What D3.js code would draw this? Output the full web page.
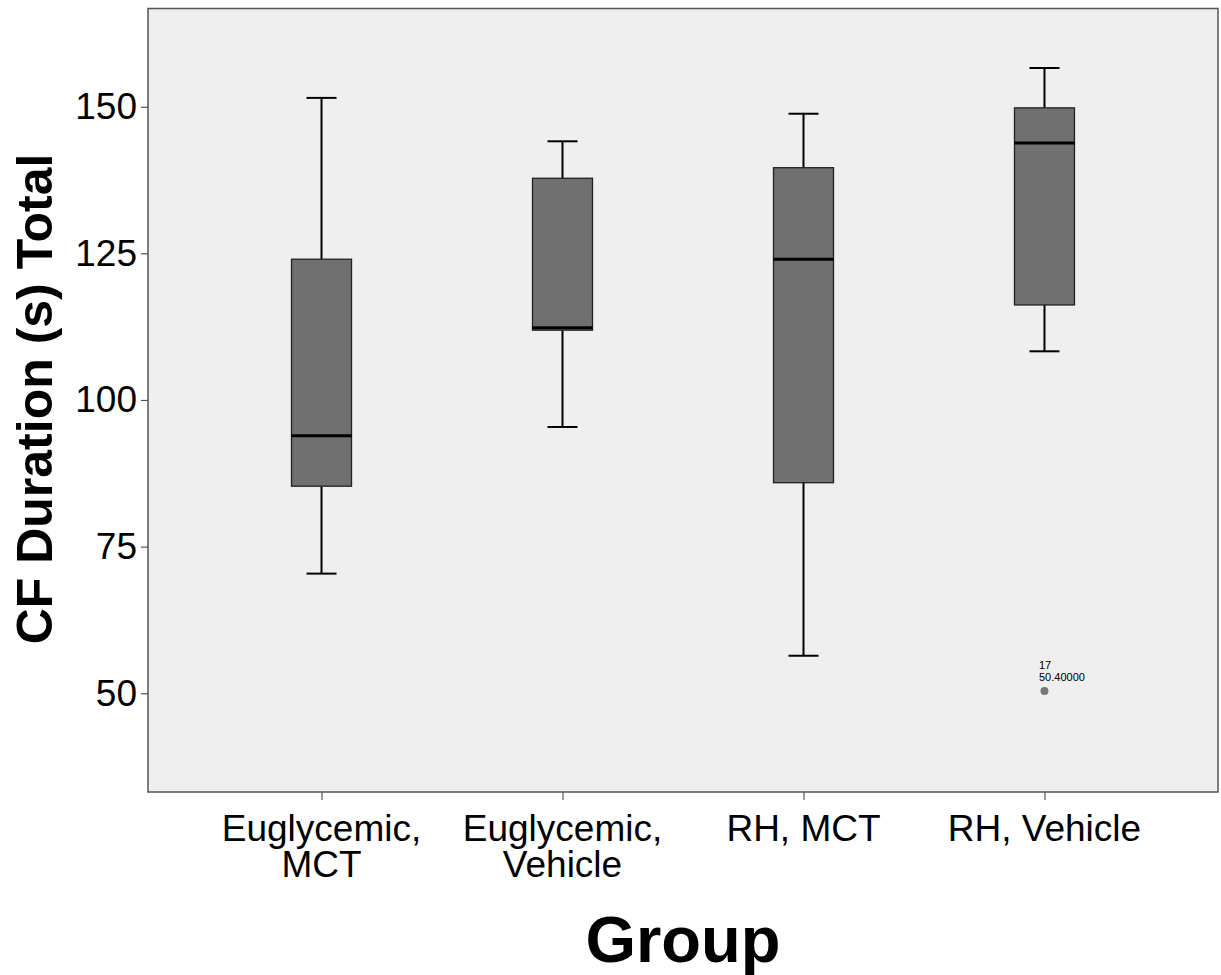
<!DOCTYPE html>
<html><head><meta charset="utf-8">
<script src="https://cdn.jsdelivr.net/npm/d3@7"></script>
<style>body{margin:0;background:#fff}svg{display:block}text{font-family:"Liberation Sans",Arial,sans-serif}</style>
</head><body><svg id="c" width="1221" height="975"></svg>
<script>
const categories = [["Euglycemic,","MCT"],["Euglycemic,","Vehicle"],["RH, MCT"],["RH, Vehicle"]];
const whiskerLow = [70.4, 95.4, 56.4, 108.3];
const q1 = [85.3, 111.9, 85.9, 116.2];
const median = [93.9, 112.3, 124.0, 143.8];
const q3 = [124.0, 137.8, 139.6, 149.8];
const whiskerHigh = [151.5, 144.1, 148.8, 156.6];
const outliers = [{group: 3, id: "17", value: 50.4}];
const yTicks = [50, 75, 100, 125, 150];

const svg = d3.select("#c");
const L = 148, R = 1218, T = 8.5, B = 792;
const keys = categories.map((c,i)=>"g"+i);
const x = d3.scalePoint().domain(keys).range([L, R]).padding(0.72);
const y = d3.scaleLinear().domain([33.17, 166.74]).range([B, T]);

svg.append("rect").attr("x", L).attr("y", T).attr("width", R-L).attr("height", B-T)
  .attr("fill", "#efefef").attr("stroke", "#555").attr("stroke-width", 1.5);

// y axis
const yAxis = d3.axisLeft(y).tickValues(yTicks).tickSize(7).tickPadding(4);
const ga = svg.append("g").attr("transform", `translate(${L},0)`).call(yAxis);
ga.select(".domain").remove();
ga.selectAll(".tick line").attr("stroke", "#555").attr("stroke-width", 1.2);
ga.selectAll(".tick text").attr("font-size", 37).attr("fill", "#000")
  .attr("font-family", '"Liberation Sans",Arial,sans-serif');

// x axis
const xAxis = d3.axisBottom(x).tickSize(8).tickFormat("");
const gx = svg.append("g").attr("transform", `translate(0,${B})`).call(xAxis);
gx.select(".domain").remove();
gx.selectAll(".tick line").attr("stroke", "#555").attr("stroke-width", 1.2);
categories.forEach((lines, i) => {
  lines.forEach((ln, j) => {
    svg.append("text").attr("x", x(keys[i])).attr("y", 841 + j * 36)
      .attr("text-anchor", "middle").attr("font-size", 37).attr("fill", "#000").text(ln);
  });
});

// boxes
const bw = 60, cw = 30;
keys.forEach((k, i) => {
  const cx = x(k);
  const g = svg.append("g");
  g.append("line").attr("x1", cx).attr("x2", cx).attr("y1", y(whiskerHigh[i])).attr("y2", y(q3[i]))
    .attr("stroke", "#000").attr("stroke-width", 2);
  g.append("line").attr("x1", cx).attr("x2", cx).attr("y1", y(q1[i])).attr("y2", y(whiskerLow[i]))
    .attr("stroke", "#000").attr("stroke-width", 2);
  [whiskerHigh[i], whiskerLow[i]].forEach(v => {
    g.append("line").attr("x1", cx - cw/2).attr("x2", cx + cw/2).attr("y1", y(v)).attr("y2", y(v))
      .attr("stroke", "#000").attr("stroke-width", 2);
  });
  g.append("rect").attr("x", cx - bw/2).attr("y", y(q3[i])).attr("width", bw)
    .attr("height", y(q1[i]) - y(q3[i])).attr("fill", "#707070")
    .attr("stroke", "#222").attr("stroke-width", 1.3);
  g.append("line").attr("x1", cx - bw/2).attr("x2", cx + bw/2).attr("y1", y(median[i])).attr("y2", y(median[i]))
    .attr("stroke", "#000").attr("stroke-width", 3);
});

// outliers
outliers.forEach(o => {
  const cx = x(keys[o.group]), cy = y(o.value);
  svg.append("circle").attr("cx", cx).attr("cy", cy).attr("r", 4).attr("fill", "#777");
  svg.append("text").attr("x", cx - 5.5).attr("y", cy - 21.5).attr("font-size", 11).attr("fill", "#000").text(o.id);
  svg.append("text").attr("x", cx - 5.5).attr("y", cy - 9.5).attr("font-size", 11).attr("fill", "#000").text(o.value.toFixed(5));
});

// axis titles
svg.append("text").attr("x", 683).attr("y", 962).attr("text-anchor", "middle")
  .attr("font-size", 65).attr("font-weight", "bold").attr("fill", "#000").text("Group");
svg.append("text").attr("transform", "translate(52,399) rotate(-90)").attr("text-anchor", "middle")
  .attr("font-size", 50).attr("font-weight", "bold").attr("fill", "#000").text("CF Duration (s) Total");
</script></body></html>
